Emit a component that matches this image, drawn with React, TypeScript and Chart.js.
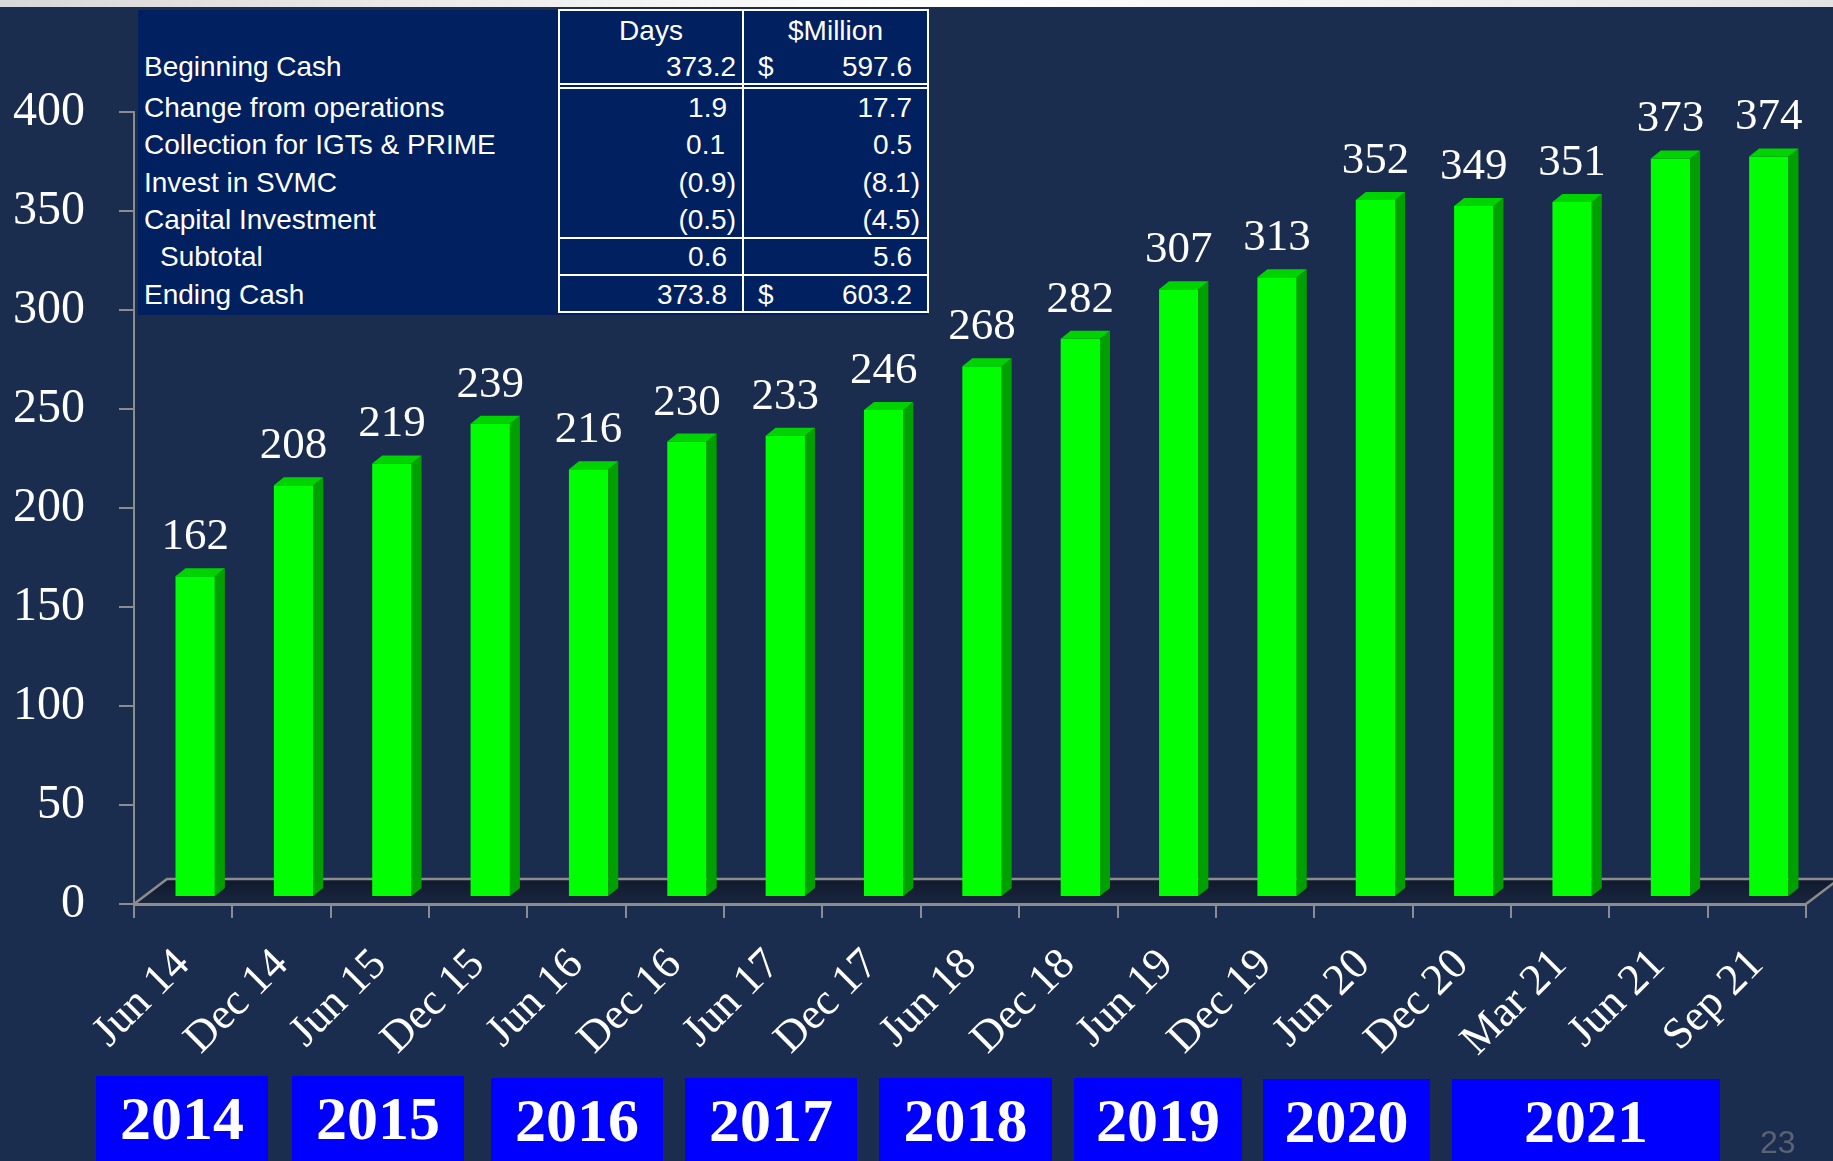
import React, { useEffect, useRef } from 'react';
import { Chart, registerables } from 'chart.js';

Chart.register(...registerables);

// ---------------- data ----------------
const categories = ['Jun 14', 'Dec 14', 'Jun 15', 'Dec 15', 'Jun 16', 'Dec 16', 'Jun 17', 'Dec 17', 'Jun 18', 'Dec 18', 'Jun 19', 'Dec 19', 'Jun 20', 'Dec 20', 'Mar 21', 'Jun 21', 'Sep 21'];
const daysCash = [162, 208, 219, 239, 216, 230, 233, 246, 268, 282, 307, 313, 352, 349, 351, 373, 374];
const yMin = 0;
const yMax = 400;
const yStep = 50;
const yearLabels = ['2014', '2015', '2016', '2017', '2018', '2019', '2020', '2021'];

const tableHeaders = ['Days', '$Million'];
const tableRowLabels = ['Beginning Cash', 'Change from operations', 'Collection for IGTs & PRIME', 'Invest in SVMC', 'Capital Investment', 'Subtotal', 'Ending Cash'];
const tableDays = ['373.2', '1.9', '0.1', '(0.9)', '(0.5)', '0.6', '373.8'];
const tableMillion = ['597.6', '17.7', '0.5', '(8.1)', '(4.5)', '5.6', '603.2'];
const tableDollar = [true, false, false, false, false, false, true];
const pageNumber = '23';

// ---------------- layout / style ----------------
const W = 1833;
const H = 1161;
const BG = 'rgb(27,45,78)';
const TABLE_BG = '#002060';
const AXIS_GRAY = '#8c8c8c';
const FRONT = '#00ff00';
const SIDE = '#00a000';
const TOP = '#00d400';
const SHIFT_X = 12;
const SHIFT_Y = -7;
const DEPTH_X = 10;
const DEPTH_Y = -8;
const FLOOR_DX = 33;
const FLOOR_DY = -25;

const yearBoxLayout = [
  { left: 96, right: 268, top: 1076 },
  { left: 292, right: 464, top: 1076 },
  { left: 491, right: 663, top: 1078 },
  { left: 685, right: 857, top: 1078 },
  { left: 879, right: 1052, top: 1078 },
  { left: 1074, right: 1242, top: 1078 },
  { left: 1263, right: 1430, top: 1079 },
  { left: 1452, right: 1720, top: 1079 },
];

const rowCapCenters = [66.7, 107.5, 144.7, 182.7, 219.7, 256.7, 295];
const headerCapCenter = 30.3;
const daysRight = [736, 727, 725, 736, 736, 727, 727];
const millionRight = [912, 912, 912, 920, 920, 912, 912];
const labelLeft = [144, 144, 144, 144, 144, 160, 144];

const pseudo3d = {
  id: 'pseudo3d',
  beforeDraw(chart: any) {
    const { ctx, chartArea: a, width, height } = chart;
    ctx.save();
    ctx.fillStyle = BG;
    ctx.fillRect(0, 0, width, height);
    const g = ctx.createLinearGradient(0, 0, width, 0);
    g.addColorStop(0, '#d8d8d8');
    g.addColorStop(0.5, '#ffffff');
    g.addColorStop(1, '#e4e4e4');
    ctx.fillStyle = g;
    ctx.fillRect(0, 0, width, 7);

    // floor
    const fg = ctx.createLinearGradient(0, a.bottom + FLOOR_DY, 0, a.bottom);
    fg.addColorStop(0, '#111a2d');
    fg.addColorStop(1, '#19263f');
    ctx.fillStyle = fg;
    ctx.beginPath();
    ctx.moveTo(a.left, a.bottom);
    ctx.lineTo(a.right, a.bottom);
    ctx.lineTo(a.right + FLOOR_DX, a.bottom + FLOOR_DY);
    ctx.lineTo(a.left + FLOOR_DX, a.bottom + FLOOR_DY);
    ctx.closePath();
    ctx.fill();
    ctx.strokeStyle = AXIS_GRAY;
    ctx.lineWidth = 2.5;
    ctx.beginPath();
    ctx.moveTo(a.left, a.bottom);
    ctx.lineTo(a.left + FLOOR_DX, a.bottom + FLOOR_DY);
    ctx.lineTo(a.right + FLOOR_DX, a.bottom + FLOOR_DY);
    ctx.moveTo(a.right, a.bottom);
    ctx.lineTo(a.right + FLOOR_DX, a.bottom + FLOOR_DY);
    ctx.stroke();
    ctx.restore();
  },
  beforeDatasetsDraw(chart: any) {
    chart.ctx.save();
    chart.ctx.translate(SHIFT_X, SHIFT_Y);
  },
  afterDatasetsDraw(chart: any) {
    const ctx = chart.ctx;
    const meta = chart.getDatasetMeta(0);
    meta.data.forEach((bar: any, i: number) => {
      const { x, y, base, width } = bar.getProps(['x', 'y', 'base', 'width'], true);
      const l = x - width / 2;
      const r = x + width / 2;
      ctx.fillStyle = SIDE;
      ctx.beginPath();
      ctx.moveTo(r, y);
      ctx.lineTo(r + DEPTH_X, y + DEPTH_Y);
      ctx.lineTo(r + DEPTH_X, base + DEPTH_Y);
      ctx.lineTo(r, base);
      ctx.closePath();
      ctx.fill();
      ctx.fillStyle = TOP;
      ctx.beginPath();
      ctx.moveTo(l, y);
      ctx.lineTo(l + DEPTH_X, y + DEPTH_Y);
      ctx.lineTo(r + DEPTH_X, y + DEPTH_Y);
      ctx.lineTo(r, y);
      ctx.closePath();
      ctx.fill();
      ctx.fillStyle = '#ffffff';
      ctx.font = '45px "Liberation Serif"';
      ctx.textAlign = 'center';
      ctx.textBaseline = 'alphabetic';
      ctx.fillText(String(daysCash[i]), x, y + DEPTH_Y - 19);
    });
    ctx.restore();
  },
};

function ChartCanvas() {
  const ref = useRef<HTMLCanvasElement | null>(null);
  useEffect(() => {
    if (!ref.current) return;
    const chart = new Chart(ref.current, {
      type: 'bar',
      data: {
        labels: categories,
        datasets: [
          {
            data: daysCash,
            backgroundColor: FRONT,
            borderWidth: 0,
            barPercentage: 0.4,
            categoryPercentage: 1,
          },
        ],
      },
      options: {
        animation: false,
        responsive: false,
        devicePixelRatio: 1,
        layout: { padding: { left: 0, top: 112, right: 27, bottom: 0 } },
        plugins: { legend: { display: false }, tooltip: { enabled: false }, title: { display: false } },
        scales: {
          x: {
            offset: true,
            afterFit: (s: any) => {
              s.height = H - 904;
            },
            grid: {
              display: true,
              drawOnChartArea: false,
              drawTicks: true,
              tickLength: 14,
              color: AXIS_GRAY,
              lineWidth: 2,
              offset: true,
            },
            border: { display: true, color: AXIS_GRAY, width: 3 },
            ticks: {
              autoSkip: false,
              maxRotation: 45,
              minRotation: 45,
              padding: 21,
              color: '#ffffff',
              font: { family: 'Liberation Serif', size: 44 },
            },
          },
          y: {
            min: yMin,
            max: yMax,
            afterFit: (s: any) => {
              s.width = 134;
            },
            grid: {
              display: true,
              drawOnChartArea: false,
              drawTicks: true,
              tickLength: 15,
              color: AXIS_GRAY,
              lineWidth: 2,
            },
            border: { display: true, color: AXIS_GRAY, width: 2 },
            ticks: {
              stepSize: yStep,
              padding: 34,
              color: '#ffffff',
              font: { family: 'Liberation Serif', size: 48 },
            },
          },
        },
      },
      plugins: [pseudo3d],
    });
    return () => chart.destroy();
  }, []);
  return <canvas ref={ref} width={W} height={H} style={{ position: 'absolute', left: 0, top: 0, width: W, height: H }} />;
}

const sans = '"Liberation Sans", Arial, sans-serif';
const TXT_LH = 32;
const CAP_OFFSET = 15.7;

function Table() {
  const white = '#ffffff';
  const lines: React.ReactNode[] = [];
  const hLine = (y: number, x1: number, x2: number, h = 2, key = '') =>
    lines.push(<div key={'h' + key + y} style={{ position: 'absolute', left: x1, top: y - h / 2, width: x2 - x1, height: h, background: white }} />);
  const vLine = (x: number, y1: number, y2: number, key = '') =>
    lines.push(<div key={'v' + key + x} style={{ position: 'absolute', left: x - 1, top: y1, width: 2, height: y2 - y1, background: white }} />);
  hLine(10, 558, 929);
  hLine(84.3, 558, 929);
  hLine(87.6, 558, 929);
  hLine(238, 558, 929);
  hLine(275, 558, 929);
  hLine(312, 558, 929);
  vLine(559, 10, 313);
  vLine(743, 10, 313);
  vLine(928, 10, 313);

  const textStyle = (top: number): React.CSSProperties => ({
    position: 'absolute',
    top: top - CAP_OFFSET,
    height: TXT_LH,
    lineHeight: TXT_LH + 'px',
    fontFamily: sans,
    fontSize: 28,
    color: white,
    whiteSpace: 'pre',
  });

  return (
    <>
      <div style={{ position: 'absolute', left: 138, top: 10, width: 790, height: 305, background: TABLE_BG }} />
      {lines}
      <div style={{ ...textStyle(headerCapCenter), left: 559, width: 184, textAlign: 'center' }}>{tableHeaders[0]}</div>
      <div style={{ ...textStyle(headerCapCenter), left: 743, width: 185, textAlign: 'center' }}>{tableHeaders[1]}</div>
      {tableRowLabels.map((lab, i) => (
        <div key={'l' + i} style={{ ...textStyle(rowCapCenters[i]), left: labelLeft[i] }}>{lab}</div>
      ))}
      {tableDays.map((v, i) => (
        <div key={'d' + i} style={{ ...textStyle(rowCapCenters[i]), left: daysRight[i] - 170, width: 170, textAlign: 'right' }}>{v}</div>
      ))}
      {tableDollar.map((d, i) =>
        d ? (
          <div key={'s' + i} style={{ ...textStyle(rowCapCenters[i]), left: 758 }}>$</div>
        ) : null
      )}
      {tableMillion.map((v, i) => (
        <div key={'m' + i} style={{ ...textStyle(rowCapCenters[i]), left: millionRight[i] - 140, width: 140, textAlign: 'right' }}>{v}</div>
      ))}
    </>
  );
}

function YearBoxes() {
  return (
    <>
      {yearLabels.map((y, i) => {
        const b = yearBoxLayout[i];
        return (
          <div
            key={y}
            style={{
              position: 'absolute',
              left: b.left,
              top: b.top,
              width: b.right - b.left,
              height: H - b.top,
              background: '#0000ff',
              color: '#ffffff',
              fontFamily: '"Liberation Serif", serif',
              fontWeight: 'bold',
              fontSize: 62,
              lineHeight: '85px',
              textAlign: 'center',
            }}
          >
            {y}
          </div>
        );
      })}
    </>
  );
}

export default function App() {
  return (
    <div style={{ position: 'absolute', left: 0, top: 0, width: W, height: H, overflow: 'hidden', background: BG }}>
      <ChartCanvas />
      <Table />
      <YearBoxes />
      <div
        style={{
          position: 'absolute',
          left: 1760,
          top: 1124,
          fontFamily: sans,
          fontSize: 32,
          lineHeight: '36px',
          color: '#5b6273',
        }}
      >
        {pageNumber}
      </div>
    </div>
  );
}
